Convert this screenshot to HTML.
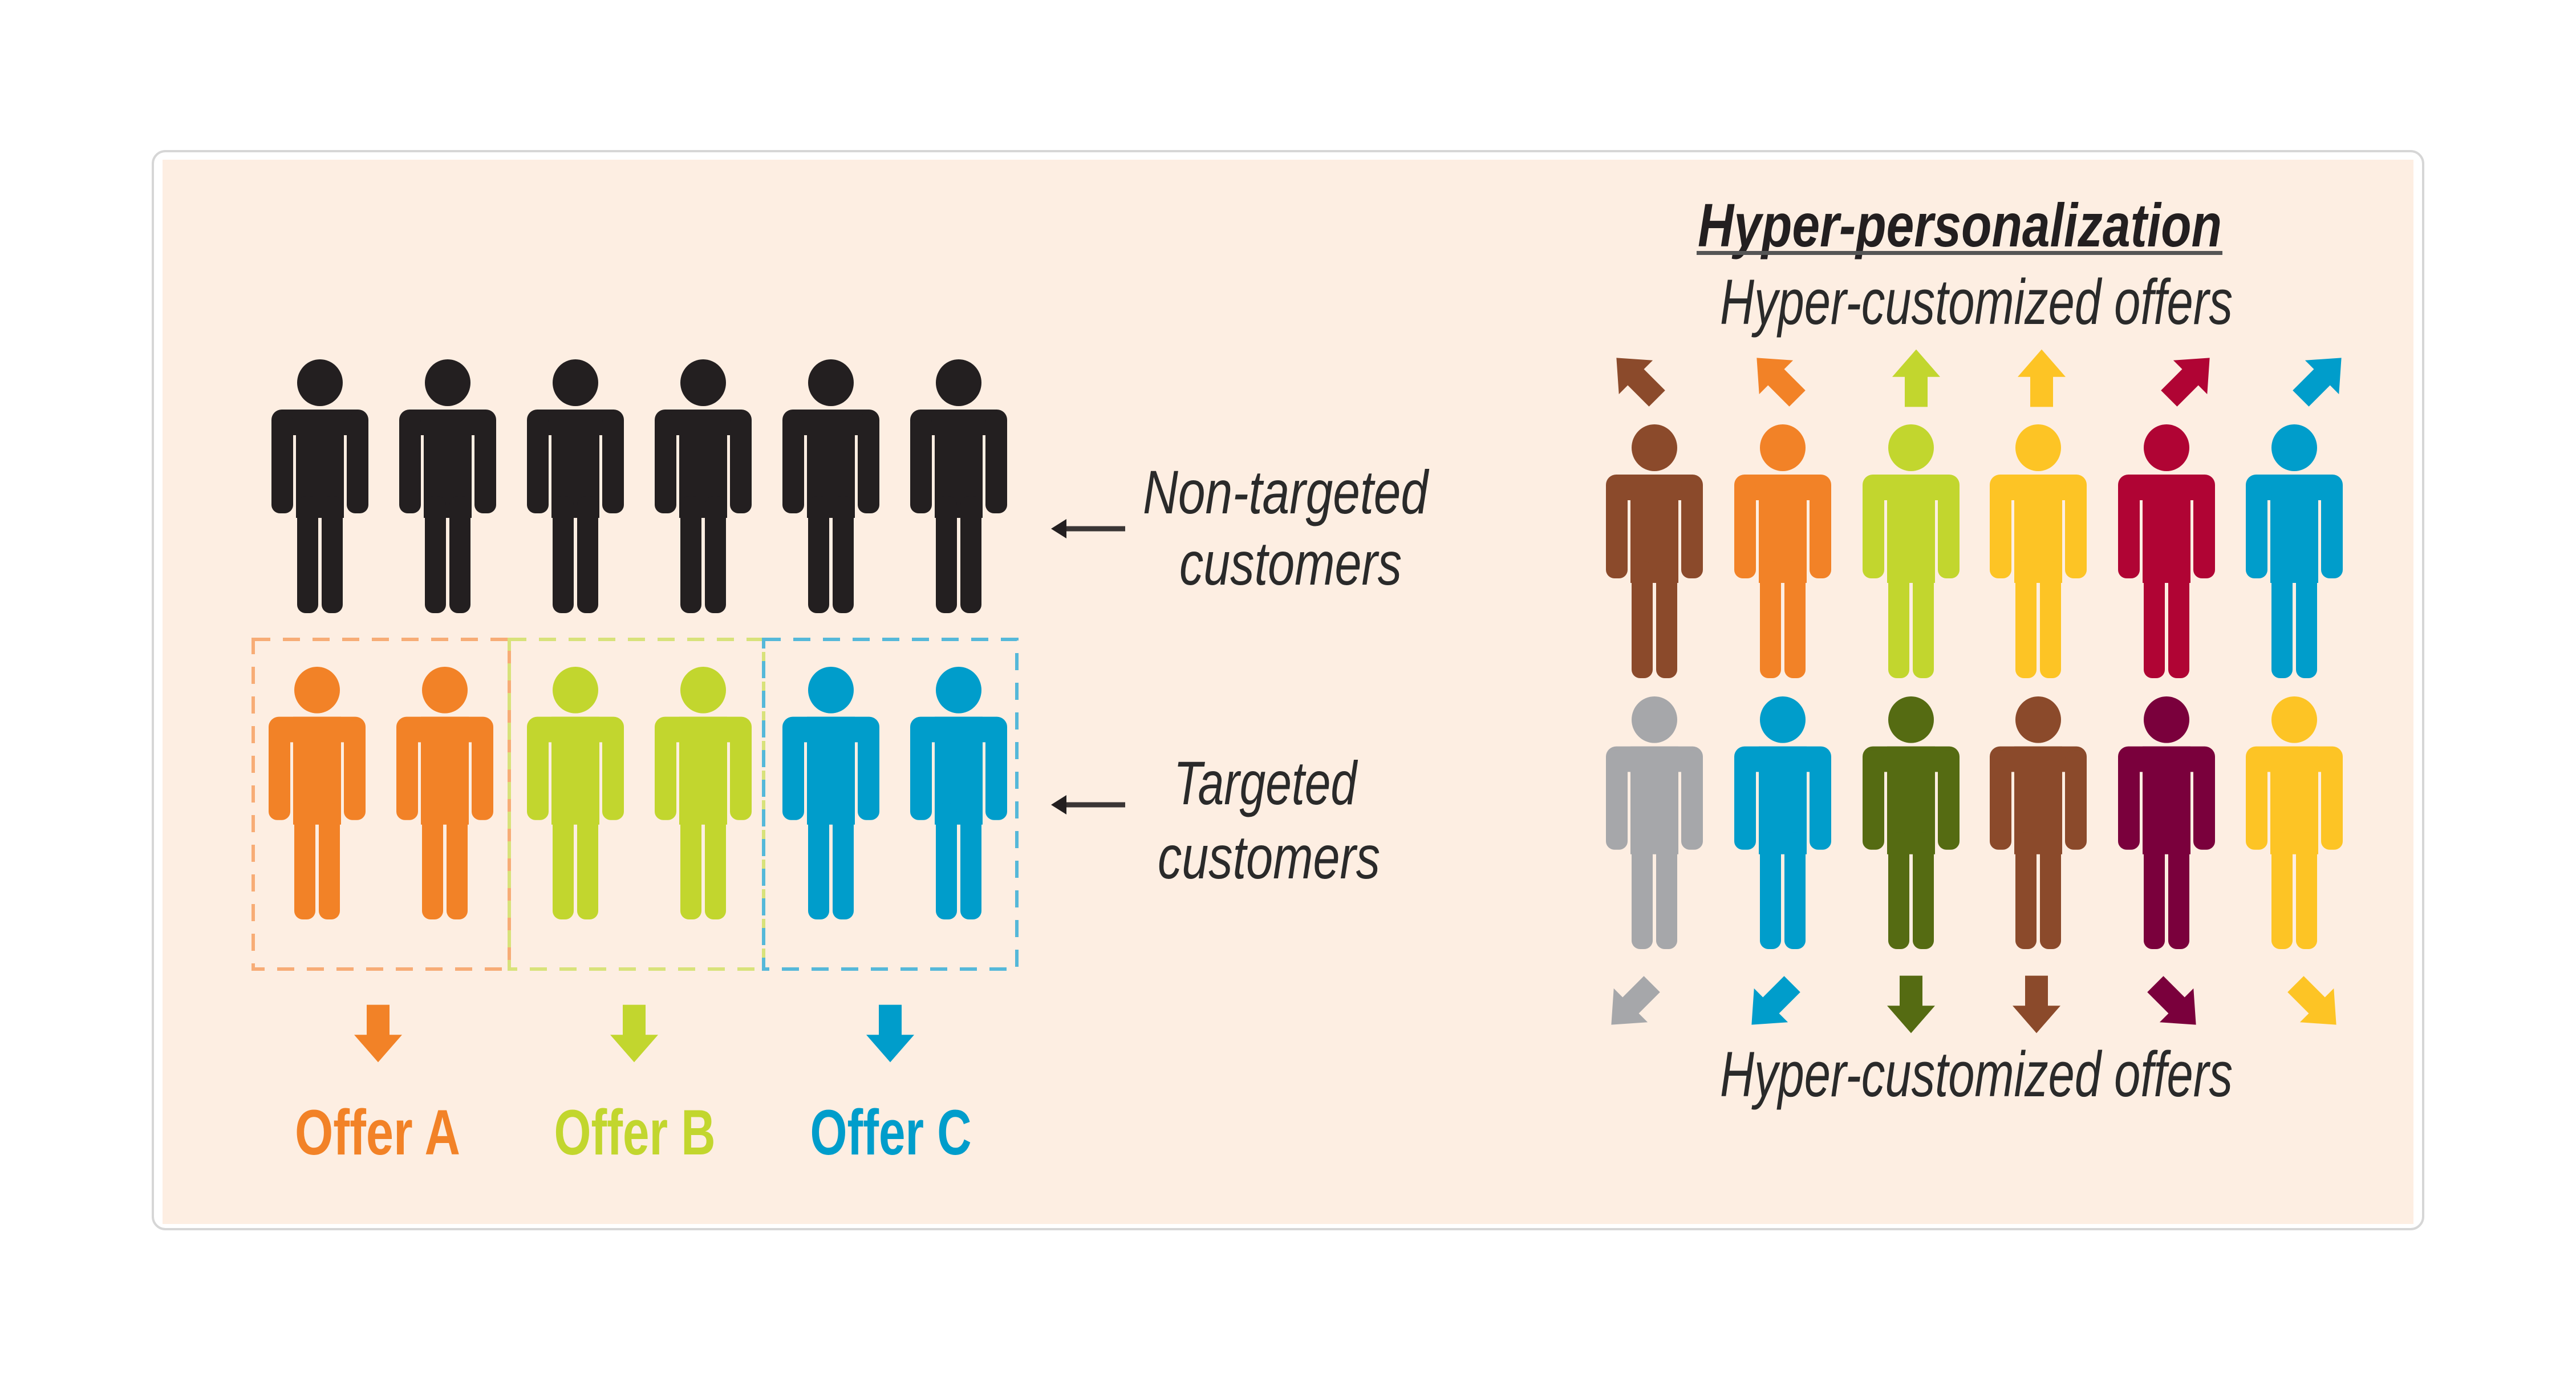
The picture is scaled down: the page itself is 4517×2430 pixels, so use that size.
<!DOCTYPE html>
<html><head><meta charset="utf-8"><style>
html,body{margin:0;padding:0;background:#fff;}
svg{display:block;}
text{font-family:"Liberation Sans Narrow","Liberation Sans",sans-serif;}
</style></head><body>
<svg id="c" width="4517" height="2430" viewBox="0 0 4517 2430" xmlns="http://www.w3.org/2000/svg">
<rect x="268" y="265" width="3981" height="1890" rx="22" fill="#fff" stroke="#d6d6d6" stroke-width="4"/>
<rect x="285" y="280" width="3947" height="1866" fill="#FDEEE2"/>
<g id="figs"></g>
<g fill="none" stroke-width="6" stroke-dasharray="30 22">
<rect x="444" y="1121" width="449" height="578" stroke="#F7AC76"/>
<rect x="893" y="1121" width="446" height="578" stroke="#D8E27A"/>
<rect x="1339" y="1121" width="444" height="578" stroke="#55B8D9"/>
</g>
<text x="662" y="2024" font-size="112" font-weight="bold" fill="#F28227" text-anchor="middle" textLength="290" lengthAdjust="spacingAndGlyphs">Offer A</text>
<text x="1113" y="2024" font-size="112" font-weight="bold" fill="#C2D62E" text-anchor="middle" textLength="283" lengthAdjust="spacingAndGlyphs">Offer B</text>
<text x="1562" y="2024" font-size="112" font-weight="bold" fill="#009DCB" text-anchor="middle" textLength="283" lengthAdjust="spacingAndGlyphs">Offer C</text>
<g fill="#2a2a2a" font-style="italic" font-size="108">
<text x="2004" y="900" textLength="500" lengthAdjust="spacingAndGlyphs">Non-targeted</text>
<text x="2068" y="1025" textLength="390" lengthAdjust="spacingAndGlyphs">customers</text>
<text x="2058" y="1410" textLength="321" lengthAdjust="spacingAndGlyphs">Targeted</text>
<text x="2030" y="1540" textLength="390" lengthAdjust="spacingAndGlyphs">customers</text>
<text x="3016" y="568" font-size="112" textLength="899" lengthAdjust="spacingAndGlyphs">Hyper-customized offers</text>
<text x="3016" y="1922" font-size="112" textLength="899" lengthAdjust="spacingAndGlyphs">Hyper-customized offers</text>
</g>
<text x="2977" y="432" font-size="108" font-weight="bold" font-style="italic" fill="#231F20" textLength="919" lengthAdjust="spacingAndGlyphs">Hyper-personalization</text>
<rect x="2975" y="440" width="922" height="7" fill="#555"/>
<g stroke="#3a3535" stroke-width="9" fill="#231F20">
<line x1="1868" y1="927" x2="1973" y2="927"/>
<polygon points="1843,927 1870,910 1870,944" stroke="none"/>
<line x1="1868" y1="1411" x2="1973" y2="1411"/>
<polygon points="1843,1411 1870,1394 1870,1428" stroke="none"/>
</g>
</svg>
<script>
// left panel
const leftCenters=[561,785,1009,1233,1457,1681];
const leftTopColors=['#231F20','#231F20','#231F20','#231F20','#231F20','#231F20'];
const leftBottomColors=['#F28227','#F28227','#C2D62E','#C2D62E','#009DCB','#009DCB'];
const offerArrowX=[663,1112,1561];
const offerColors=['#F28227','#C2D62E','#009DCB'];
// right panel
const rightCenters=[2901,3126,3351,3574,3799,4023];
const rightTopColors=['#8B4A2B','#F28227','#C2D62E','#FDC425','#B00434','#009DCB'];
const rightBottomColors=['#A6A7AA','#009DCB','#556B12','#8B4A2B','#7A003C','#FDC425'];
const topArrowX=[2870,3116,3360,3580,3839,4070];
const topArrowAngle=[-45,-45,0,0,45,45];
const bottomArrowX=[2861,3107,3351,3571,3815,4061];
const bottomArrowAngle=[-135,-135,180,180,135,135];

const NS='http://www.w3.org/2000/svg';
const g=document.getElementById('figs');
function el(t,a){const e=document.createElementNS(NS,t);for(const k in a)e.setAttribute(k,a[k]);return e;}
function figure(cx,top,h,color,name){
  const s=h/445;
  const f=el('g',{transform:`translate(${cx-85},${top}) scale(1,${s})`,fill:color});
  
  
  f.appendChild(el('ellipse',{cx:85,cy:41,rx:40,ry:41}));
  f.appendChild(el('rect',{x:0,y:88,width:170,height:45,rx:18}));
  f.appendChild(el('rect',{x:0,y:95,width:38,height:175,rx:15}));
  f.appendChild(el('rect',{x:132,y:95,width:38,height:175,rx:15}));
  f.appendChild(el('rect',{x:43,y:88,width:84,height:190}));
  f.appendChild(el('rect',{x:45,y:240,width:37,height:205,rx:15}));
  f.appendChild(el('rect',{x:88,y:240,width:37,height:205,rx:15}));
  g.appendChild(f);
}
function arrow(cx,cy,ang,color,name){
  const a=el('polygon',{points:'-20,45 20,45 20,-2 42,-2 0,-45 -42,-2 -20,-2',fill:color,transform:`translate(${cx},${cy}) rotate(${ang}) scale(1,1.12)`});
  
  
  g.appendChild(a);
}
leftCenters.forEach((x,i)=>figure(x,630,445,leftTopColors[i],'non-targeted-customer'));
leftCenters.forEach((x,i)=>figure(i<2?x-5:x,1169,443,leftBottomColors[i],'targeted-customer'));
offerArrowX.forEach((x,i)=>arrow(x,1812,180,offerColors[i],'offer-arrow'));
rightCenters.forEach((x,i)=>figure(x,744,445,rightTopColors[i],'personalized-customer-top'));
rightCenters.forEach((x,i)=>figure(x,1221,443,rightBottomColors[i],'personalized-customer-bottom'));
topArrowX.forEach((x,i)=>arrow(x,663,topArrowAngle[i],rightTopColors[i],'top-offer-arrow'));
bottomArrowX.forEach((x,i)=>arrow(x,1761,bottomArrowAngle[i],rightBottomColors[i],'bottom-offer-arrow'));
</script>
</body></html>
